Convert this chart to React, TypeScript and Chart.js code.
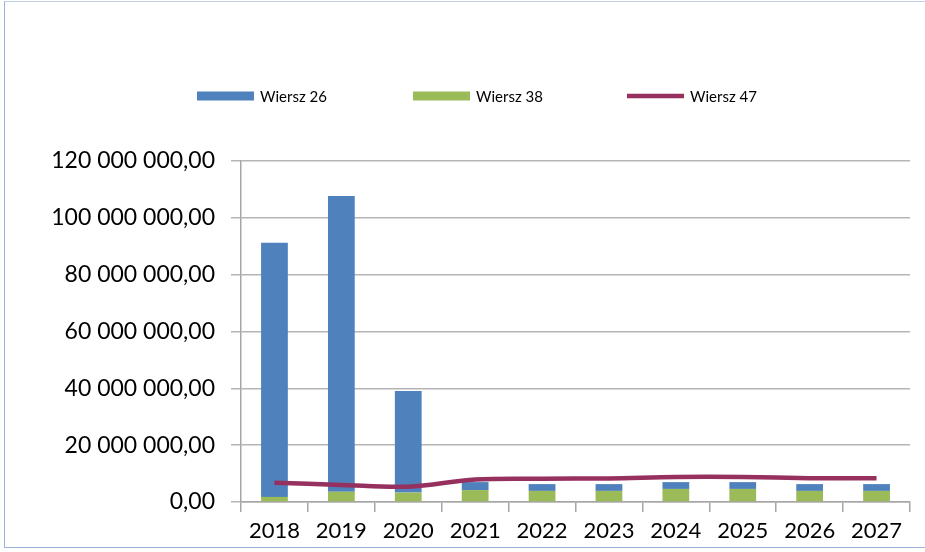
import React, { useEffect, useRef } from "react";
import { Chart, registerables } from "chart.js";

Chart.register(...registerables);

const years = ["2018", "2019", "2020", "2021", "2022", "2023", "2024", "2025", "2026", "2027"];
const wiersz26 = [89400000, 104100000, 35800000, 2800000, 2400000, 2400000, 2400000, 2400000, 2400000, 2400000];
const wiersz38 = [1800000, 3600000, 3300000, 4200000, 3900000, 3900000, 4600000, 4600000, 3900000, 3900000];
const wiersz47 = [6800000, 6000000, 5400000, 7900000, 8200000, 8300000, 8800000, 8800000, 8400000, 8400000];
const seriesNames = ["Wiersz 26", "Wiersz 38", "Wiersz 47"];
const yTicks = [0, 20000000, 40000000, 60000000, 80000000, 100000000, 120000000];

const BLUE = "#4F81BD";
const GREEN = "#9BBB59";
const MAROON = "#96305F";
const FONT = "Lato, 'Open Sans', sans-serif";

function formatPl(v: number): string {
  const fixed = Math.abs(v).toFixed(2);
  const [intPart, dec] = fixed.split(".");
  const grouped = intPart.replace(/\B(?=(\d{3})+(?!\d))/g, " ");
  return (v < 0 ? "-" : "") + grouped + "," + dec;
}

const legendPlugin = {
  id: "customLegend",
  afterDraw(chart: any) {
    const ctx = chart.ctx;
    const items = [
      { x: 197, color: BLUE, type: "box", label: seriesNames[0] },
      { x: 413, color: GREEN, type: "box", label: seriesNames[1] },
      { x: 627, color: MAROON, type: "line", label: seriesNames[2] },
    ];
    const cy = 96;
    ctx.save();
    ctx.font = "15px " + FONT;
    ctx.textBaseline = "middle";
    ctx.fillStyle = "#000";
    items.forEach((it) => {
      if (it.type === "box") {
        ctx.fillStyle = it.color;
        ctx.fillRect(it.x, cy - 4.5, 57, 9);
      } else {
        ctx.strokeStyle = it.color;
        ctx.lineWidth = 4.5;
        ctx.beginPath();
        ctx.moveTo(it.x, cy);
        ctx.lineTo(it.x + 57, cy);
        ctx.stroke();
      }
      ctx.fillStyle = "#000";
      ctx.fillText(it.label, it.x + 63, cy + 1);
    });
    ctx.restore();
  },
};

export default function App() {
  const ref = useRef<HTMLCanvasElement>(null);

  useEffect(() => {
    document.body.style.margin = "0";
    const canvas = ref.current;
    if (!canvas) return;
    const chart = new Chart(canvas, {
      type: "bar",
      data: {
        labels: years,
        datasets: [
          {
            type: "line",
            label: seriesNames[2],
            data: wiersz47,
            borderColor: MAROON,
            backgroundColor: MAROON,
            borderWidth: 4.5,
            pointRadius: 0,
            tension: 0.35,
            stack: "line",
            order: 0,
          } as any,
          {
            type: "bar",
            label: seriesNames[1],
            data: wiersz38,
            backgroundColor: GREEN,
            stack: "bars",
            order: 2,
            categoryPercentage: 1,
            barPercentage: 0.4,
          },
          {
            type: "bar",
            label: seriesNames[0],
            data: wiersz26,
            backgroundColor: BLUE,
            stack: "bars",
            order: 2,
            categoryPercentage: 1,
            barPercentage: 0.4,
          },
        ],
      },
      options: {
        animation: false,
        responsive: false,
        maintainAspectRatio: false,
        layout: { padding: { top: 161, right: 15, bottom: 0, left: 0 } },
        plugins: {
          legend: { display: false },
          tooltip: { enabled: false },
        },
        scales: {
          x: {
            stacked: true,
            offset: true,
            grid: {
              offset: true,
              drawOnChartArea: false,
              drawTicks: true,
              tickLength: 10,
              color: "#A6A6A6",
              lineWidth: 1.5,
            },
            border: { color: "#A6A6A6", width: 1.5 },
            ticks: {
              color: "#000",
              font: { family: FONT, size: 22 },
              padding: 6,
              maxRotation: 0,
            },
            afterFit: (scale: any) => {
              scale.height = 50;
            },
          },
          y: {
            stacked: true,
            min: 0,
            max: 120000000,
            afterBuildTicks: (scale: any) => {
              scale.ticks = yTicks.map((v) => ({ value: v }));
            },
            grid: {
              color: "#B5B5B5",
              lineWidth: 1.5,
              tickLength: 10,
              drawTicks: true,
            },
            border: { color: "#A6A6A6", width: 1.5 },
            ticks: {
              color: "#000",
              font: { family: FONT, size: 23 },
              padding: 16,
              callback: (v: any) => formatPl(Number(v)),
            },
            afterFit: (scale: any) => {
              scale.width = 241;
            },
          },
        },
      },
      plugins: [legendPlugin],
    });
    return () => chart.destroy();
  }, []);

  return (
    <div style={{ position: "relative", width: 925, height: 552, background: "#fff", overflow: "hidden" }}>
      <div
        style={{
          position: "absolute",
          left: 4,
          top: 1,
          width: 960,
          height: 547,
          borderLeft: "1.5px solid #9DB4DA",
          borderTop: "1.5px solid #BFD0E8",
          borderBottom: "1.5px solid #9DB4DA",
          boxSizing: "border-box",
          pointerEvents: "none",
        }}
      />
      <canvas ref={ref} width={925} height={552} style={{ position: "absolute", left: 0, top: 0, width: 925, height: 552 }} />
    </div>
  );
}
